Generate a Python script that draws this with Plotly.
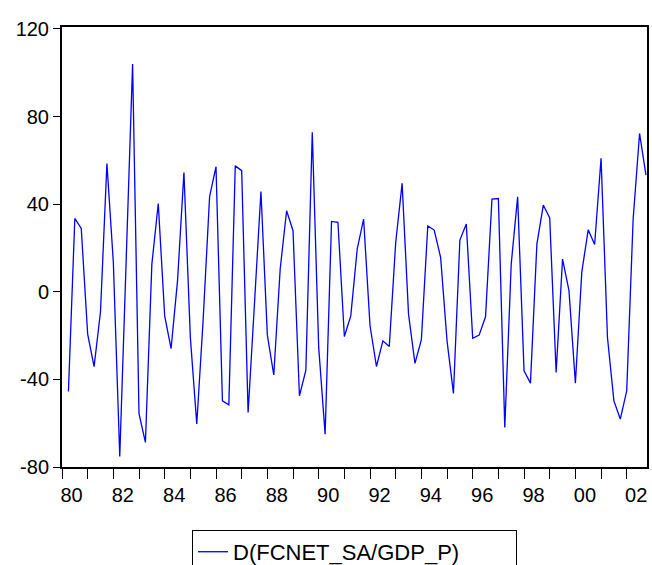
import pandas as pd
import plotly.graph_objects as go

# Quarterly observations 1980Q2 .. 2002Q4 of D(FCNET_SA/GDP_P)
quarters = [str(p) for p in pd.period_range("1980Q2", "2002Q4", freq="Q")]
values = [
    -45.5, 33.5, 28.9, -19.3, -34.2, -9.1, 58.6, 13.4, -75.2, 14.3,
    104.0, -55.6, -68.8, 12.5, 40.3, -11.0, -25.9, 5.0, 54.5, -20.8,
    -60.4, -12.5, 43.5, 57.1, -49.8, -51.6, 57.5, 55.3, -55.1, -5.0,
    45.8, -19.8, -38.0, 10.4, 37.0, 27.9, -47.5, -35.8, 72.8, -25.4,
    -65.0, 32.1, 31.7, -20.4, -11.0, 19.5, 33.2, -15.5, -34.1, -22.4,
    -25.0, 22.5, 49.5, -10.2, -32.7, -21.9, 30.1, 28.2, 15.7, -22.4,
    -46.4, 23.6, 30.9, -21.2, -19.8, -11.4, 42.3, 42.6, -62.0, 12.6,
    43.4, -36.1, -41.7, 21.8, 39.6, 33.7, -36.8, 14.9, 0.5, -41.7,
    9.1, 28.3, 21.6, 61.0, -20.9, -49.8, -58.1, -45.2, 33.2, 72.3, 53.3,
]
series_name = "D(FCNET_SA/GDP_P)"

year_ticks = list(range(1980, 2003))
x_label_years = list(range(1980, 2003, 2))
x_label_text = [f"{y % 100:02d}" for y in x_label_years]
y_tick_vals = [-80, -40, 0, 40, 80, 120]
y_tick_text = ["-80", "-40", "0", "40", "80", "120"]

def q_to_num(q):
    y, qq = q.split("Q")
    return int(y) + (int(qq) - 1) / 4.0

xs = [q_to_num(q) for q in quarters]

font_family = "Arial, Liberation Sans, sans-serif"

fig = go.Figure()
fig.add_trace(go.Scatter(
    x=xs, y=values, mode="lines", name=series_name,
    line=dict(color="#0000FF", width=1.3),
    showlegend=True,
))

fig.update_layout(
    width=652, height=565,
    margin=dict(l=62, r=5, t=27, b=98, autoexpand=False),
    paper_bgcolor="white", plot_bgcolor="white",
    font=dict(family=font_family, size=20, color="black"),
    showlegend=True,
    legend=dict(
        x=0.5, xanchor="center", y=-0.143, yanchor="top",
        orientation="h", entrywidth=278, entrywidthmode="pixels",
        bordercolor="black", borderwidth=1, bgcolor="white",
        font=dict(family=font_family, size=22, color="black"),
    ),
    xaxis=dict(
        range=[1980, 2002.79],
        automargin=False,
        tickmode="array",
        tickvals=[y + 0.37 for y in x_label_years],
        ticktext=x_label_text,
        ticks="", ticklen=0,
        ticklabelstandoff=9,
        minor=dict(tickmode="array", tickvals=year_ticks, ticks="outside",
                   ticklen=10, tickwidth=1, tickcolor="black", showgrid=False),
        showgrid=False, zeroline=False,
        showline=True, linecolor="black", linewidth=2, mirror=True,
        tickfont=dict(family=font_family, size=20, color="black"),
    ),
    yaxis=dict(
        range=[-80, 120.9],
        automargin=False,
        tickmode="array", tickvals=y_tick_vals, ticktext=y_tick_text,
        ticks="outside", ticklen=7, tickwidth=1, tickcolor="black",
        showgrid=False, zeroline=False,
        showline=True, linecolor="black", linewidth=2, mirror=True,
        tickfont=dict(family=font_family, size=20, color="black"),
    ),
)

fig.write_html(
    "out.html",
    config={"displayModeBar": False},
    post_script="document.body.style.margin='0px';document.body.style.overflow='hidden';",
)
